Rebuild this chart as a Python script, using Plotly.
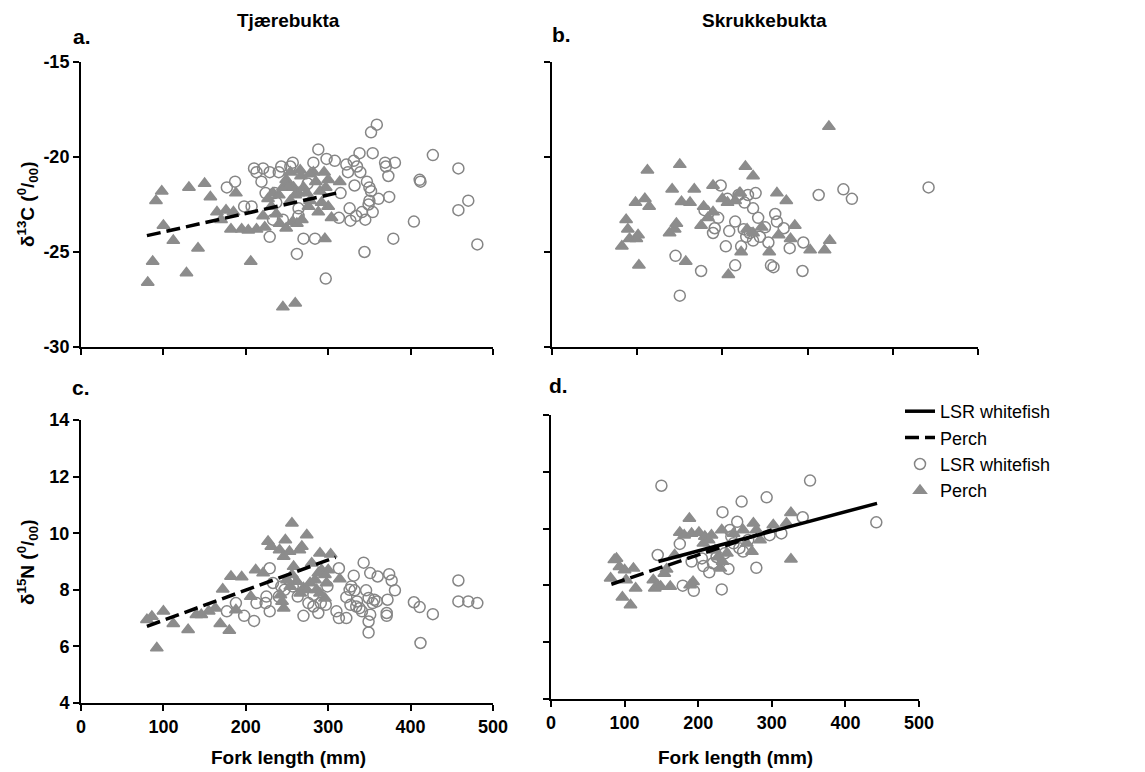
import plotly.graph_objects as go

# ---------------- data (fork length mm, isotope value) ----------------
# Panel a: Tjaerebukta, d13C
a_wf_x = [177,187,198,210,213,219,224,229,229,243,233,257,264,262,270,282,288,298,297,313,322,324,326,327,331,332,334,338,341,344,347,350,352,350,354,354,359,361,369,370,373,374,379,381,404,411,412,427,458,458,470,481,221,240,254,235,237,245,284,308,335,339,345,264,207,275,315,352,349]
a_wf_y = [-21.6,-21.3,-22.6,-20.6,-20.8,-21.3,-21.9,-20.8,-24.2,-20.5,-23.3,-20.3,-23.1,-25.1,-24.3,-20.3,-19.6,-20.1,-26.4,-23.2,-20.4,-20.8,-22.7,-23.35,-20.2,-21.5,-23.1,-19.8,-22.9,-25.0,-21.3,-21.6,-18.7,-22.3,-22.9,-19.8,-18.3,-22.2,-20.3,-20.5,-21.0,-22.1,-24.3,-20.3,-23.4,-21.2,-21.3,-19.9,-20.6,-22.8,-22.3,-24.6,-20.6,-20.8,-20.5,-21.9,-22.4,-23.3,-24.3,-20.2,-20.5,-20.8,-23.3,-22.7,-22.6,-21.4,-21.9,-21.8,-22.5]
a_pe_x = [81,87,91,98,100,112,128,131,142,150,157,165,170,176,182,188,195,206,213,221,227,233,237,241,245,249,252,254,257,260,245,249,258,264,267,270,274,278,282,285,288,292,295,296,297,300,304,314,231,254,185,203,223,251,266,278,262,268,240,260,290,276,300]
a_pe_y = [-26.6,-25.5,-22.3,-21.8,-23.6,-24.4,-26.1,-21.6,-24.8,-21.4,-22.1,-22.9,-23.3,-22.8,-23.8,-21.9,-23.8,-25.5,-23.8,-23.1,-22.2,-21.9,-23.0,-23.5,-27.9,-23.75,-21.4,-20.8,-23.4,-27.7,-21.6,-21.2,-21.6,-21.9,-21.0,-21.6,-21.9,-22.3,-20.8,-21.3,-22.9,-22.4,-20.8,-24.3,-21.6,-22.6,-23.2,-21.3,-22.6,-22.3,-22.9,-23.85,-23.7,-21.5,-20.7,-20.9,-23.5,-23.3,-22.0,-22.0,-21.8,-22.6,-21.2]
a_pe_line_x = [80, 316]
a_pe_line_y = [-24.14, -21.84]

# Panel b: Skrukkebukta, d13C
b_wf_x = [145,150,175,179,189,191,195,198,204,206,208,215,215,219,222,225,226,228,230,232,236,236,239,242,244,250,254,257,260,262,264,272,279,294,295,313,342,352,442]
b_wf_y = [-25.2,-27.3,-26.0,-22.8,-24.0,-23.75,-23.2,-21.5,-24.7,-22.2,-23.9,-23.4,-25.7,-22.0,-24.7,-23.8,-22.4,-24.2,-22.0,-24.0,-22.7,-24.4,-21.9,-23.2,-24.2,-23.7,-24.5,-25.7,-25.8,-23.0,-23.4,-23.75,-24.8,-26.0,-24.5,-22.0,-21.7,-22.2,-21.6]
b_pe_x = [82,87,89,91,98,99,101,102,109,112,114,138,141,144,146,150,152,157,162,167,175,178,183,189,189,200,206,207,215,220,222,227,229,236,236,246,255,264,266,275,280,285,303,320,326,325,221]
b_pe_y = [-24.7,-23.3,-23.8,-24.3,-22.4,-24.3,-24.1,-25.7,-22.2,-20.7,-22.6,-24.0,-21.7,-23.8,-23.5,-20.4,-22.35,-25.5,-22.4,-21.7,-23.6,-22.6,-23.2,-21.5,-22.9,-22.2,-22.4,-26.2,-22.3,-21.9,-25.0,-20.5,-23.8,-21.0,-24.0,-23.7,-25.0,-21.9,-24.1,-22.3,-24.3,-23.6,-24.9,-24.9,-24.4,-18.4,-21.9]

# Panel c: Tjaerebukta, d15N
c_wf_x = [188,177,198,210,213,224,229,229,225,233,240,243,247,252,257,263,270,276,282,282,288,291,297,299,310,313,313,322,322,326,327,328,331,332,334,335,338,341,343,346,349,349,349,351,351,354,356,359,360,371,371,372,374,377,381,404,411,412,427,458,458,470,481]
c_wf_y = [7.53,7.24,7.08,6.9,7.53,7.53,8.76,7.24,7.76,8.24,7.76,8.12,8.0,8.35,8.12,7.76,7.08,7.53,7.82,7.41,7.18,7.53,7.47,8.12,7.24,8.76,7.0,7.0,7.74,8.0,7.47,8.12,8.5,7.98,7.41,7.59,7.35,7.24,8.96,7.98,7.71,6.88,6.49,8.59,7.12,7.53,7.65,7.59,8.47,7.18,7.08,7.65,8.55,8.33,7.98,7.56,7.39,6.12,7.14,8.33,7.59,7.59,7.53]
c_pe_x = [80,86,92,100,112,130,140,146,155,163,169,172,180,182,188,195,206,212,221,227,231,241,246,248,253,256,258,265,268,274,280,290,303,314,296,246,244,242,256,262,270,278,284,288,292,296,300,298,266,274,254,250,286,290]
c_pe_y = [6.94,7.06,5.94,7.24,6.8,6.59,7.12,7.12,7.24,7.35,6.8,8.02,6.56,8.47,7.29,8.45,7.76,8.7,8.59,9.71,9.53,9.41,9.18,9.76,9.35,10.35,8.82,9.41,9.53,9.94,8.94,9.29,9.26,8.38,7.7,7.35,7.59,7.82,8.53,8.29,8.06,8.24,8.35,8.59,8.7,8.53,8.7,8.24,7.88,8.0,8.12,8.35,8.0,7.88]
c_pe_line_x = [80, 309]
c_pe_line_y = [6.71, 9.15]

# Panel d: Skrukkebukta, d15N
d_wf_x = [145,150,175,179,191,194,205,207,215,220,233,232,236,241,243,248,253,256,259,261,268,279,293,297,313,342,352,442,245,225]
d_wf_y = [9.07,11.51,9.46,7.99,8.84,7.81,8.95,8.68,8.46,8.78,10.58,7.86,9.13,8.58,9.95,9.48,10.24,9.31,10.95,9.19,9.6,8.62,11.1,9.77,9.83,10.4,11.69,10.22,9.72,9.0]
d_pe_x = [81,86,89,93,97,100,102,108,112,115,139,141,145,149,154,157,162,168,175,181,188,189,193,191,201,207,209,214,218,223,227,230,232,233,239,248,261,266,273,275,279,284,302,320,326,326]
d_pe_y = [8.25,8.9,8.95,8.66,7.58,8.54,8.19,7.31,8.6,7.9,8.19,7.9,8.01,7.96,8.42,8.57,7.96,9.07,9.86,9.77,10.36,8.01,8.13,9.83,9.86,9.48,9.72,9.6,9.77,9.24,9.0,8.6,9.95,8.84,9.13,9.83,9.95,9.48,9.19,10.19,9.95,9.6,10.13,10.19,10.56,8.92]
d_wf_line_x = [146, 443]
d_wf_line_y = [8.84, 10.89]
d_pe_line_x = [82, 300]
d_pe_line_y = [8.04, 9.95]

x_ticks = [0, 100, 200, 300, 400, 500]
c13_ticks = [-15, -20, -25, -30]
n15_ticks = [4, 6, 8, 10, 12, 14]

# ---------------- styling ----------------
W, H = 1145, 772
FONT = "Arial, Liberation Sans, sans-serif"
TRI_COL = "#8c8c8c"
CIR_COL = "#858585"

def px(x):
    return x / W

def py(y):
    return 1 - y / H

tri = dict(symbol="triangle-up", size=11, color=TRI_COL, line=dict(color=TRI_COL, width=1.5))
cir = dict(symbol="circle-open", size=11, color=CIR_COL, line=dict(color=CIR_COL, width=1.5))
solid = dict(color="black", width=3.5)
dashed = dict(color="black", width=3.5, dash="14px,6px")

fig = go.Figure()

def add_panel(n, wx, wy, pxs, pys, lines):
    xa = "x" if n == 1 else f"x{n}"
    ya = "y" if n == 1 else f"y{n}"
    fig.add_trace(go.Scatter(x=wx, y=wy, mode="markers", marker=cir, xaxis=xa, yaxis=ya,
                             name="LSR whitefish", showlegend=False))
    fig.add_trace(go.Scatter(x=pxs, y=pys, mode="markers", marker=tri, xaxis=xa, yaxis=ya,
                             name="Perch", showlegend=False))
    for lx, ly, st in lines:
        fig.add_trace(go.Scatter(x=lx, y=ly, mode="lines", line=st, xaxis=xa, yaxis=ya,
                                 showlegend=False))

add_panel(1, a_wf_x, a_wf_y, a_pe_x, a_pe_y, [(a_pe_line_x, a_pe_line_y, dashed)])
add_panel(2, b_wf_x, b_wf_y, b_pe_x, b_pe_y, [])
add_panel(3, c_wf_x, c_wf_y, c_pe_x, c_pe_y, [(c_pe_line_x, c_pe_line_y, dashed)])
add_panel(4, d_wf_x, d_wf_y, d_pe_x, d_pe_y,
          [(d_wf_line_x, d_wf_line_y, solid), (d_pe_line_x, d_pe_line_y, dashed)])

# legend entries
fig.add_trace(go.Scatter(x=[None], y=[None], mode="lines", line=solid, name="LSR whitefish",
                         xaxis="x4", yaxis="y4"))
fig.add_trace(go.Scatter(x=[None], y=[None], mode="lines", line=dashed, name="Perch",
                         xaxis="x4", yaxis="y4"))
fig.add_trace(go.Scatter(x=[None], y=[None], mode="markers", marker=cir, name="LSR whitefish",
                         xaxis="x4", yaxis="y4"))
fig.add_trace(go.Scatter(x=[None], y=[None], mode="markers", marker=tri, name="Perch",
                         xaxis="x4", yaxis="y4"))

tickfont = dict(family=FONT, size=18, color="black")

def lab(v):
    return "<b>" + str(v) + "</b>"

def xaxis(dom, anchor, labels):
    return dict(domain=dom, anchor=anchor, range=[0, 500], tickvals=x_ticks,
                ticktext=[lab(v) for v in x_ticks], automargin=False,
                showticklabels=labels, tickfont=tickfont, showline=True, linecolor="black",
                linewidth=2, ticks="outside", ticklen=6, tickwidth=2, tickcolor="black",
                showgrid=False, zeroline=False)

def yaxis(dom, anchor, rng, tv, labels):
    return dict(domain=dom, anchor=anchor, range=rng, tickvals=tv, automargin=False,
                ticktext=[lab(v) for v in tv], showticklabels=labels,
                tickfont=tickfont, showline=True, linecolor="black", linewidth=2,
                ticks="outside", ticklen=6, tickwidth=2, tickcolor="black",
                showgrid=False, zeroline=False)

top = [py(347), py(62)]
dom_a = [px(81), px(493)]
dom_b = [px(552), px(978)]
bot_c = [py(703), py(420)]
bot_d = [py(699), py(415)]
dom_d = [px(551), px(919)]

ann = []
def text(x, y, s, size, angle=0):
    ann.append(dict(x=px(x), y=py(y), xref="paper", yref="paper", text="<b>" + s + "</b>",
                    showarrow=False, textangle=angle, xanchor="center", yanchor="middle",
                    font=dict(family=FONT, size=size, color="black")))

text(288, 21, "Tjærebukta", 19)
text(764, 21, "Skrukkebukta", 19)
text(82, 37, "a.", 21)
text(561, 34, "b.", 21)
text(81, 387, "c.", 21)
text(558, 385, "d.", 21)
text(27, 205, "δ<sup>13</sup>C (<sup>0</sup>/<sub>00</sub>)", 19, angle=-90)
text(27, 563, "δ<sup>15</sup>N (<sup>0</sup>/<sub>00</sub>)", 19, angle=-90)
text(288, 757, "Fork length (mm)", 19)
text(735, 757, "Fork length (mm)", 19)

fig.update_layout(
    width=W, height=H, margin=dict(l=0, r=0, t=0, b=0, pad=0, autoexpand=False),
    paper_bgcolor="white", plot_bgcolor="white",
    xaxis=xaxis(dom_a, "y", False), yaxis=yaxis(top, "x", [-30, -15], c13_ticks, True),
    xaxis2=xaxis(dom_b, "y2", False), yaxis2=yaxis(top, "x2", [-30, -15], c13_ticks, False),
    xaxis3=xaxis(dom_a, "y3", True), yaxis3=yaxis(bot_c, "x3", [4, 14], n15_ticks, True),
    xaxis4=xaxis(dom_d, "y4", True), yaxis4=yaxis(bot_d, "x4", [4, 14], n15_ticks, False),
    annotations=ann,
    showlegend=True,
    legend=dict(x=px(900), y=py(393), xanchor="left", yanchor="top", bgcolor="rgba(0,0,0,0)",
                font=dict(family=FONT, size=18, color="black"), tracegroupgap=0,
                itemwidth=30, traceorder="normal"),
)

fig.write_html("out.html")
